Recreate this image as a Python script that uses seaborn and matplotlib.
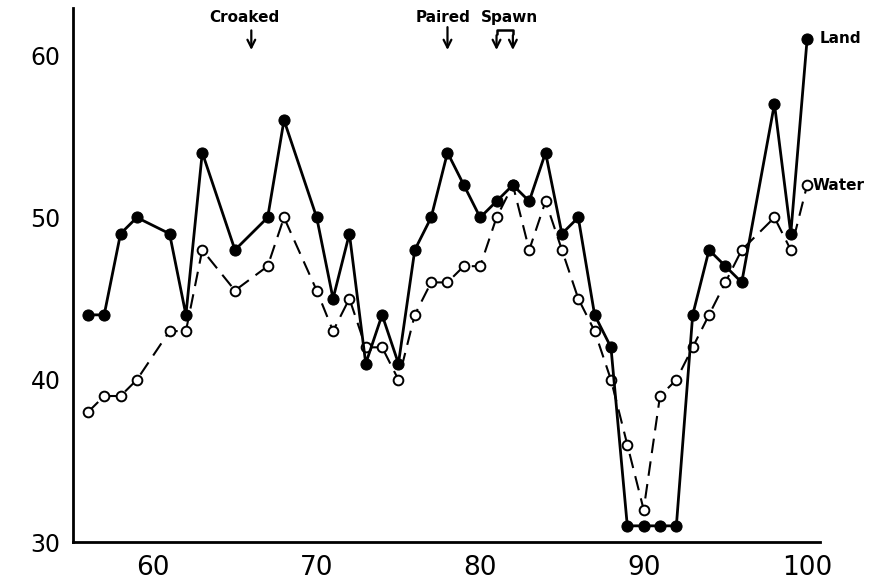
import matplotlib
matplotlib.use("Agg")
import matplotlib.pyplot as plt
import seaborn as sns
import pandas as pd

# ---- data ----
land_x = [56, 57, 58, 59, 61, 62, 63, 65, 67, 68, 70, 71, 72, 73, 74, 75, 76, 77, 78, 79,
          80, 81, 82, 83, 84, 85, 86, 87, 88, 89, 90, 91, 92, 93, 94, 95, 96, 98, 99, 100]
land_y = [44, 44, 49, 50, 49, 44, 54, 48, 50, 56, 50, 45, 49, 41, 44, 41, 48, 50, 54, 52,
          50, 51, 52, 51, 54, 49, 50, 44, 42, 31, 31, 31, 31, 44, 48, 47, 46, 57, 49, 61]
water_x = [56, 57, 58, 59, 61, 62, 63, 65, 67, 68, 70, 71, 72, 73, 74, 75, 76, 77, 78, 79,
           80, 81, 82, 83, 84, 85, 86, 87, 88, 89, 90, 91, 92, 93, 94, 95, 96, 98, 99, 100]
water_y = [38, 39, 39, 40, 43, 43, 48, 45.5, 47, 50, 45.5, 43, 45, 42, 42, 40, 44, 46, 46, 47,
           47, 50, 52, 48, 51, 48, 45, 43, 40, 36, 32, 39, 40, 42, 44, 46, 48, 50, 48, 52]
x_ticks = [60, 70, 80, 90, 100]
y_ticks = [30, 40, 50, 60]
events = ["Croaked", "Paired", "Spawn"]
croaked_x = 66
paired_x = 78
spawn_x = [81, 82]

land = pd.DataFrame({"x": land_x, "y": land_y})
water = pd.DataFrame({"x": water_x, "y": water_y})

sns.set_style("white")
plt.rcParams["font.family"] = ["DejaVu Sans"]
plt.rcParams["text.color"] = "black"

fig = plt.figure(figsize=(8.81, 5.81), dpi=100)
ax = fig.add_axes([0.083, 0.067, 0.848, 0.919])

sns.lineplot(data=water, x="x", y="y", ax=ax, color="black", linewidth=1.5,
             linestyle=(0, (7, 4)), marker="o", markersize=7, markerfacecolor="white",
             markeredgecolor="black", markeredgewidth=1.4, zorder=3)
sns.lineplot(data=land, x="x", y="y", ax=ax, color="black", linewidth=2.0,
             marker="o", markersize=8, markerfacecolor="black",
             markeredgecolor="black", zorder=4)

ax.set_xlim(55.1, 100.8)
ax.set_ylim(30, 62.9)
ax.set_xticks(x_ticks)
ax.set_yticks(y_ticks)
ax.set_xlabel("")
ax.set_ylabel("")
sns.despine(ax=ax)
for s in ("left", "bottom"):
    ax.spines[s].set_linewidth(2.0)
    ax.spines[s].set_color("black")
ax.tick_params(axis="y", direction="out", length=6, width=1.5, pad=3,
               labelsize=17, colors="black")
ax.tick_params(axis="x", direction="inout", length=12, width=1.5, pad=3,
               labelsize=19, colors="black")

# series labels
ax.annotate("Land", xy=(land_x[-1], land_y[-1]), xytext=(9, 0),
            textcoords="offset points", va="center", ha="left",
            fontsize=11, fontweight="semibold", color="black", annotation_clip=False)
ax.annotate("Water", xy=(water_x[-1], water_y[-1]), xytext=(4, 0),
            textcoords="offset points", va="center", ha="left",
            fontsize=11, fontweight="semibold", color="black", annotation_clip=False)

# event annotations
arrow = dict(arrowstyle="->", color="black", lw=1.6, mutation_scale=14)
ax.text(croaked_x - 0.4, 62.3, events[0], ha="center", va="center",
        fontsize=11, fontweight="semibold", color="black")
ax.annotate("", xy=(croaked_x, 60.15), xytext=(croaked_x, 61.7), arrowprops=arrow,
            annotation_clip=False)
ax.text(paired_x - 0.3, 62.3, events[1], ha="center", va="center",
        fontsize=11, fontweight="semibold", color="black")
ax.annotate("", xy=(paired_x, 60.15), xytext=(paired_x, 61.9), arrowprops=arrow,
            annotation_clip=False)
ax.text(spawn_x[1] - 0.2, 62.3, events[2], ha="center", va="center",
        fontsize=11, fontweight="semibold", color="black")
ax.plot([spawn_x[0], spawn_x[0], spawn_x[1], spawn_x[1]],
        [61.3, 61.55, 61.55, 61.3], color="black", lw=1.8, clip_on=False)
for sx in spawn_x:
    ax.annotate("", xy=(sx, 60.15), xytext=(sx, 61.4), arrowprops=arrow,
                annotation_clip=False)

fig.savefig("out.png", dpi=100)
